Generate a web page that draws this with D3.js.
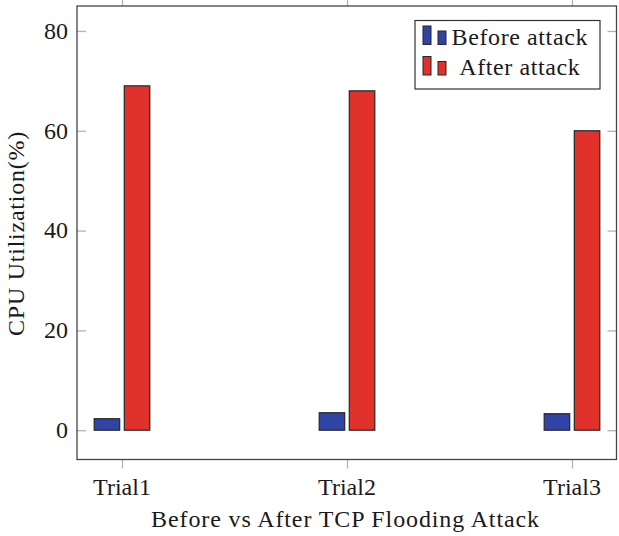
<!DOCTYPE html>
<html><head><meta charset="utf-8">
<script src="https://cdn.jsdelivr.net/npm/d3@7/dist/d3.min.js"></script>
<style>body{margin:0;background:#fff}svg{display:block}text{font-family:"Liberation Serif",serif;fill:#1a1a1a}</style>
</head><body><svg id="c" width="619" height="536"></svg>
<script>
const categories = ["Trial1","Trial2","Trial3"];
const seriesNames = ["Before attack","After attack"];
const beforeValues = [2.3, 3.5, 3.3];
const afterValues = [69, 68, 60];
const yTicks = [0,20,40,60,80];
const colors = ["#2f44a5","#e0312a"];

const svg = d3.select("#c");
const L=77, R=616.5, T=6, B=459.5;
const y = d3.scaleLinear().domain([-5.87, 85.0]).range([B, T]);
const x = d3.scalePoint().domain(categories).range([122, 572]);
const x1 = d3.scaleBand().domain(seriesNames).range([-27.8, 27.8]).paddingInner(0.153);

const tickCol = "#b3b3b3", tl = 9;
const yAxL = svg.append("g").attr("transform",`translate(${L},0)`)
  .call(d3.axisRight(y).tickValues(yTicks).tickSize(tl).tickFormat(""));
const yAxR = svg.append("g").attr("transform",`translate(${R},0)`)
  .call(d3.axisLeft(y).tickValues(yTicks).tickSize(tl).tickFormat(""));
const xAxB = svg.append("g").attr("transform",`translate(0,${B})`)
  .call(d3.axisBottom(x).tickSize(tl).tickFormat(""));
const xAxT = svg.append("g").attr("transform",`translate(0,${T})`)
  .call(d3.axisTop(x).tickSize(tl).tickFormat(""));
[yAxL,yAxR,xAxB,xAxT].forEach(g=>{g.select(".domain").remove();g.selectAll("line").attr("stroke",tickCol).attr("stroke-width",1.3);});

const fs = 24;
svg.append("g").selectAll("text").data(yTicks).join("text")
  .attr("x", L-9).attr("y", d=>y(d)).attr("dy","0.33em")
  .attr("text-anchor","end").attr("font-size",fs).text(d=>d);
svg.append("g").selectAll("text").data(categories).join("text")
  .attr("x", d=>x(d)).attr("y", 495)
  .attr("text-anchor","middle").attr("font-size",fs).text(d=>d);

const data = categories.map((c,i)=>({c, vals:[beforeValues[i], afterValues[i]]}));
const grp = svg.append("g").selectAll("g").data(data).join("g")
  .attr("transform", d=>`translate(${x(d.c)},0)`);
grp.selectAll("rect").data(d=>d.vals.map((v,j)=>({v,s:seriesNames[j],j}))).join("rect")
  .attr("x", d=>x1(d.s)).attr("width", x1.bandwidth())
  .attr("y", d=>y(Math.max(0,d.v))).attr("height", d=>Math.abs(y(d.v)-y(0)))
  .attr("fill", d=>colors[d.j]).attr("stroke","#262626").attr("stroke-width",1.2);

svg.append("rect").attr("x",L).attr("y",T).attr("width",R-L).attr("height",B-T)
  .attr("fill","none").attr("stroke","#444").attr("stroke-width",1.3);

svg.append("text").attr("x",345.5).attr("y",527).attr("text-anchor","middle")
  .attr("font-size",fs).attr("letter-spacing",0.88).text("Before vs After TCP Flooding Attack");
svg.append("text").attr("transform","translate(24,233.5) rotate(-90)")
  .attr("text-anchor","middle").attr("font-size",fs).attr("letter-spacing",0.75).text("CPU Utilization(%)");

const lg = svg.append("g");
lg.append("rect").attr("x",415).attr("y",20.5).attr("width",185).attr("height",68.5)
  .attr("fill","#fff").attr("stroke","#333").attr("stroke-width",1.2);
const rows = seriesNames.map((s,i)=>({s,i}));
const row = lg.selectAll("g.r").data(rows).join("g").attr("class","r")
  .attr("transform", d=>`translate(0,${d.i*30.5})`);
row.append("rect").attr("x",423).attr("y",26).attr("width",8).attr("height",18.5)
  .attr("fill",d=>colors[d.i]).attr("stroke","#262626").attr("stroke-width",1);
row.append("rect").attr("x",438).attr("y",31).attr("width",8).attr("height",13.5)
  .attr("fill",d=>colors[d.i]).attr("stroke","#262626").attr("stroke-width",1);
row.append("text").attr("x",519.8).attr("y",44.5).attr("text-anchor","middle")
  .attr("font-size",fs).attr("letter-spacing",0.6).text(d=>d.s);
</script></body></html>
